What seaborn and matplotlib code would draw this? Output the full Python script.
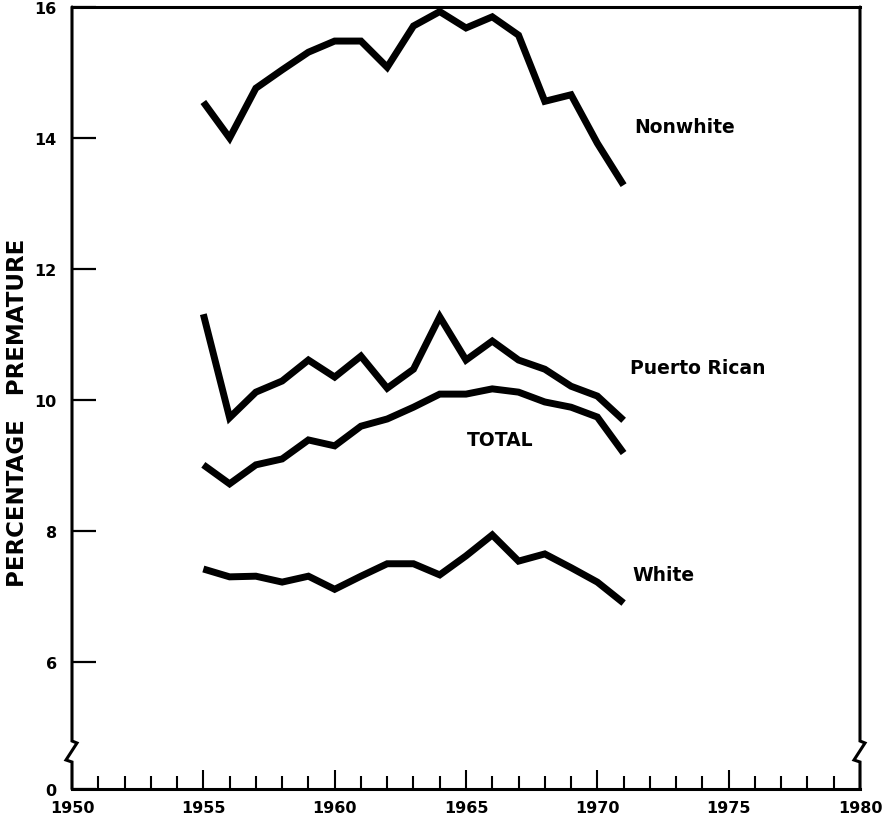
import numpy as np
import pandas as pd
import matplotlib
matplotlib.use("Agg")
import matplotlib.pyplot as plt
from matplotlib.lines import Line2D
from matplotlib.ticker import MultipleLocator
import seaborn as sns

years = list(range(1955, 1972))
nonwhite = [14.55, 14.00, 14.76, 15.04, 15.31, 15.48, 15.48, 15.08, 15.71, 15.93,
            15.68, 15.85, 15.57, 14.56, 14.66, 13.92, 13.28]
puerto_rican = [11.31, 9.73, 10.12, 10.29, 10.61, 10.35, 10.67, 10.18, 10.47, 11.27,
                10.61, 10.90, 10.61, 10.47, 10.21, 10.06, 9.69]
total = [9.01, 8.72, 9.01, 9.10, 9.39, 9.30, 9.60, 9.71, 9.89, 10.09,
         10.09, 10.17, 10.12, 9.97, 9.89, 9.74, 9.19]
white = [7.42, 7.30, 7.31, 7.22, 7.31, 7.11, 7.31, 7.50, 7.50, 7.33,
         7.62, 7.94, 7.54, 7.65, 7.44, 7.22, 6.90]

groups = ["Nonwhite", "Puerto Rican", "TOTAL", "White"]
series = [nonwhite, puerto_rican, total, white]
label_pos = [(1971.4, 14.18), (1971.25, 10.5), (1965.05, 9.40), (1971.35, 7.33)]

ytick_vals = [6, 8, 10, 12, 14, 16]
xtick_vals = [1950, 1955, 1960, 1965, 1970, 1975, 1980]
ylabel = "PERCENTAGE   PREMATURE"

df = pd.concat([pd.DataFrame({"year": years, "pct": s, "group": g})
                for g, s in zip(groups, series)], ignore_index=True)

sns.set_style("white")
plt.rcParams['font.family'] = ['DejaVu Sans']
plt.rcParams['text.color'] = 'black'
plt.rcParams['axes.labelcolor'] = 'black'
plt.rcParams['xtick.color'] = 'black'
plt.rcParams['ytick.color'] = 'black'

fig = plt.figure(figsize=(8.92, 8.20), dpi=100)
ax = fig.add_axes([72/892, 1-790/820, (860-72)/892, (790-8)/820])

sns.lineplot(data=df, x="year", y="pct", hue="group", palette=["black"]*4,
             linewidth=5, legend=False, ax=ax, estimator=None, sort=True)
for ln in ax.get_lines():
    ln.set_solid_joinstyle("miter")
    ln.set_solid_capstyle("butt")

ymin = 16 - 782/65.5
ax.set_xlim(1950, 1980)
ax.set_ylim(ymin, 16)

ax.set_xticks(xtick_vals)
ax.set_xticklabels([str(v) for v in xtick_vals], fontsize=11.5, fontweight="bold")
ax.xaxis.set_minor_locator(MultipleLocator(1))
ax.set_yticks([ymin] + ytick_vals)
ax.set_yticklabels(["0"] + [str(v) for v in ytick_vals], fontsize=11.5, fontweight="bold")
ax.yaxis.get_major_ticks()[0].tick1line.set_visible(False)

ax.tick_params(axis="x", which="major", direction="in", length=13.5, width=1.5,
               pad=8, bottom=True, top=False, color="black", labelcolor="black")
ax.tick_params(axis="x", which="minor", direction="in", length=9.2, width=1.5,
               bottom=True, top=False, color="black")
ax.tick_params(axis="y", which="major", direction="in", length=17, width=1.6,
               pad=11, left=True, right=False, color="black", labelcolor="black")

ax.set_xlabel("")
ax.set_ylabel(ylabel, fontsize=16.5, fontweight="bold", color="black")
ax.yaxis.set_label_coords(-0.054, (790-413)/782)

for side in ["top", "bottom"]:
    ax.spines[side].set_linewidth(2.2)
    ax.spines[side].set_color("black")
ax.spines["left"].set_visible(False)
ax.spines["right"].set_visible(False)

W, H = 788.0, 782.0
b0 = (790 - 763) / H
b1 = (790 - 742) / H
for x0 in [0.0, 1.0]:
    xs = [x0, x0, x0 - 6/W, x0 + 5/W, x0, x0]
    ys = [0.0, b0, b0 + 2/H, b1 - 2/H, b1, 1.0]
    ax.add_line(Line2D(xs, ys, transform=ax.transAxes, color="black",
                       linewidth=2.2, clip_on=False, solid_joinstyle="miter"))

for g, (lx, ly) in zip(groups, label_pos):
    ax.text(lx, ly, g, fontsize=13.5, fontweight="bold", ha="left", va="center",
            color="black")

fig.savefig("out.png", dpi=100)
